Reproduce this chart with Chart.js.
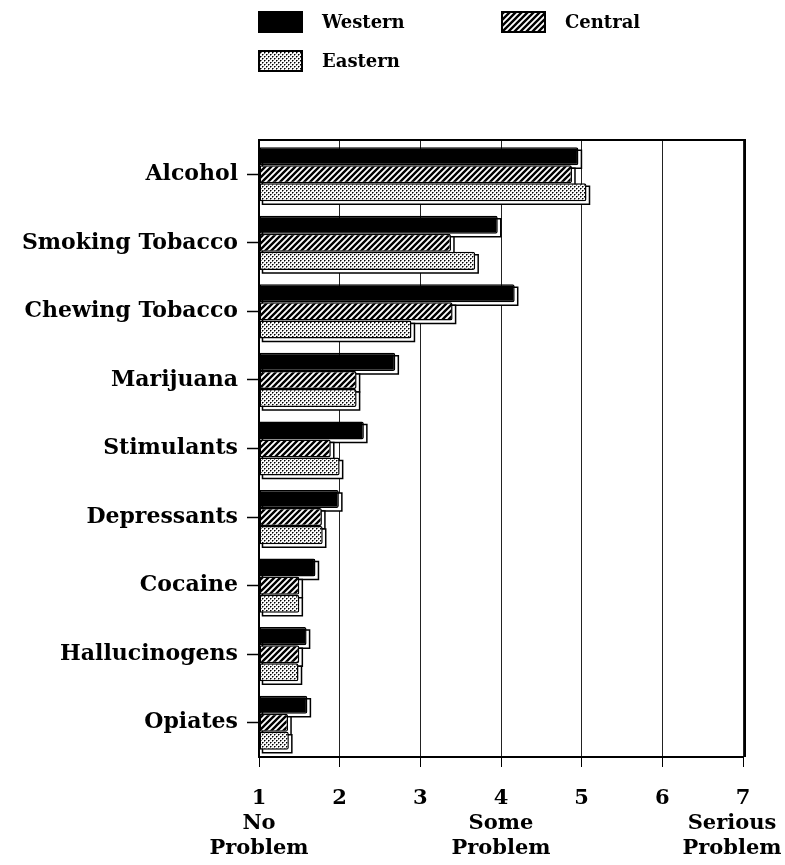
<!DOCTYPE html>
<html>
<head>
<meta charset="utf-8">
<script src="https://cdn.jsdelivr.net/npm/chart.js@4/dist/chart.umd.min.js"></script>
<style>
  html, body { margin: 0; padding: 0; background: #fff; }
  #wrap { width: 785px; height: 865px; position: relative; }
</style>
</head>
<body>
<div id="wrap"><canvas id="myChart"></canvas></div>
<script>
const categories = ['Alcohol', 'Smoking Tobacco', 'Chewing Tobacco', 'Marijuana', 'Stimulants',
  'Depressants', 'Cocaine', 'Hallucinogens', 'Opiates'];
const seriesNames = ['Western', 'Central', 'Eastern'];
const western = [4.96, 3.96, 4.17, 2.69, 2.30, 1.99, 1.70, 1.59, 1.60];
const central = [4.88, 3.38, 3.40, 2.21, 1.89, 1.78, 1.50, 1.50, 1.36];
const eastern = [5.06, 3.68, 2.89, 2.21, 2.00, 1.79, 1.50, 1.49, 1.37];
const xTicks = [1, 2, 3, 4, 5, 6, 7];
const anchorValues = [1, 4, 7];
// trailing spaces on the last one pull it left so it fits inside the page, as in the original
const anchorWords = [['No', 'Problem'], ['Some', 'Problem'], ['Serious   ', 'Problem   ']];

const FONT = "'DejaVu Serif', serif";

// fill patterns
function hatch() {
  const c = document.createElement('canvas');
  c.width = 6; c.height = 6;
  const g = c.getContext('2d');
  g.fillStyle = '#fff';
  g.fillRect(0, 0, 6, 6);
  g.strokeStyle = '#000';
  g.lineWidth = 2.4;
  g.beginPath();
  g.moveTo(-1, 7); g.lineTo(7, -1);
  g.moveTo(-4, 4); g.lineTo(4, -4);
  g.moveTo(2, 10); g.lineTo(10, 2);
  g.stroke();
  return g.createPattern(c, 'repeat');
}

function stipple() {
  const c = document.createElement('canvas');
  c.width = 4; c.height = 4;
  const g = c.getContext('2d');
  g.fillStyle = '#fafafa';
  g.fillRect(0, 0, 4, 4);
  g.fillStyle = '#000';
  g.fillRect(0, 0, 1, 1);
  g.fillRect(2, 2, 1, 1);
  g.fillStyle = '#777';
  g.fillRect(1, 0, 1, 1);
  g.fillRect(0, 1, 1, 1);
  g.fillRect(3, 2, 1, 1);
  g.fillRect(2, 3, 1, 1);
  return g.createPattern(c, 'repeat');
}

const fills = ['#000', hatch(), stipple()];

// offset "3d" side drawn behind each bar
const barShadow = {
  id: 'barShadow',
  beforeDatasetsDraw(chart) {
    const ctx = chart.ctx;
    ctx.save();
    ctx.fillStyle = '#fff';
    ctx.strokeStyle = '#000';
    ctx.lineWidth = 1.5;
    chart.data.datasets.forEach((ds, i) => {
      chart.getDatasetMeta(i).data.forEach(bar => {
        const p = bar.getProps(['x', 'y', 'base', 'height'], true);
        const top = p.y - p.height / 2 + 3;
        ctx.beginPath();
        ctx.rect(p.base + 3, top, p.x - p.base, p.height);
        ctx.fill();
        ctx.stroke();
      });
    });
    ctx.restore();
  }
};

// top and right frame + legend at the top
const frameAndLegend = {
  id: 'frameAndLegend',
  afterDraw(chart) {
    const ctx = chart.ctx;
    const a = chart.chartArea;
    ctx.save();
    ctx.strokeStyle = '#000';
    ctx.lineWidth = 2;
    ctx.beginPath();
    ctx.moveTo(a.left, a.top);
    ctx.lineTo(a.right + 2, a.top);
    ctx.lineTo(a.right + 2, a.bottom);
    ctx.stroke();

    const spots = [[259, 12], [502, 12], [259, 51]];
    ctx.font = 'bold 18px ' + FONT;
    ctx.textBaseline = 'middle';
    chart.data.datasets.forEach((ds, i) => {
      const [x, y] = spots[i];
      ctx.fillStyle = ds.backgroundColor;
      ctx.fillRect(x, y, 43, 20);
      ctx.lineWidth = 2;
      ctx.strokeRect(x, y, 43, 20);
      ctx.fillStyle = '#000';
      ctx.fillText(ds.label, x + 63, y + 11);
    });
    ctx.restore();
  }
};

const ctx = document.getElementById('myChart');

const chartData = {
  labels: categories,
  datasets: [western, central, eastern].map((vals, i) => ({
    label: seriesNames[i],
    data: vals,
    base: 1,
    backgroundColor: fills[i],
    borderColor: '#000',
    borderWidth: 1.5,
    borderSkipped: false,
    borderRadius: { topRight: 2, bottomRight: 2 },
    categoryPercentage: 0.79,
    barPercentage: 1
  }))
};

const config = {
  type: 'bar',
  data: chartData,
  options: {
    indexAxis: 'y',
    responsive: true,
    maintainAspectRatio: false,
    animation: false,
    layout: { padding: { top: 140, right: 42, left: 0, bottom: 0 } },
    plugins: {
      legend: { display: false },
      tooltip: { enabled: false }
    },
    scales: {
      x: {
        type: 'linear',
        min: 1,
        max: 7,
        afterBuildTicks: (scale) => { scale.ticks = xTicks.map(v => ({ value: v })); },
        afterFit: (scale) => {
          scale.height = 108;
          scale.paddingLeft = 0;
          scale.paddingRight = 0;
        },
        border: { display: true, color: '#000', width: 2 },
        grid: {
          color: '#222',
          lineWidth: 1,
          tickLength: 10,
          tickColor: '#000'
        },
        ticks: {
          color: '#000',
          padding: 19,
          autoSkip: false,
          maxRotation: 0,
          minRotation: 0,
          font: { family: FONT, size: 21, weight: 'bold', lineHeight: 1.2 },
          callback: (v) => {
            const k = anchorValues.indexOf(v);
            return k >= 0 ? [String(v)].concat(anchorWords[k]) : String(v);
          }
        }
      },
      y: {
        type: 'category',
        afterFit: (scale) => {
          scale.width = 259;
          scale.paddingTop = 0;
          scale.paddingBottom = 0;
        },
        border: { display: true, color: '#000', width: 2 },
        grid: {
          drawOnChartArea: false,
          offset: false,
          tickLength: 12,
          tickColor: '#000',
          tickWidth: 1.5
        },
        ticks: {
          color: '#000',
          padding: 9,
          font: { family: FONT, size: 22, weight: 'bold' }
        }
      }
    }
  },
  plugins: [barShadow, frameAndLegend]
};

if (ctx) {
  const myChart = new Chart(ctx, config);
}
</script>
</body>
</html>
